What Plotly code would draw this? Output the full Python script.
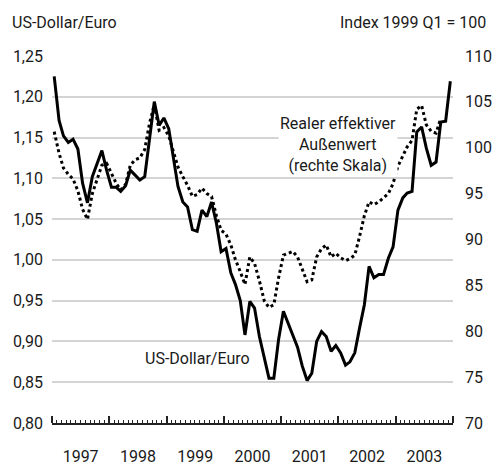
import plotly.graph_objects as go

# Monthly observations, Jan 1997 - Dec 2003
months = [f"{1997 + i // 12}-{i % 12 + 1:02d}-15" for i in range(84)]

usd_eur = [
    1.225, 1.171, 1.152, 1.144, 1.148, 1.136, 1.094, 1.070, 1.102, 1.118, 1.134, 1.110,
    1.089, 1.089, 1.084, 1.091, 1.110, 1.104, 1.098, 1.102, 1.150, 1.194, 1.165, 1.174,
    1.161, 1.122, 1.090, 1.071, 1.065, 1.037, 1.035, 1.061, 1.053, 1.071, 1.045, 1.010,
    1.014, 0.984, 0.970, 0.950, 0.908, 0.949, 0.941, 0.906, 0.880, 0.855, 0.855, 0.902,
    0.937, 0.922, 0.910, 0.893, 0.870, 0.852, 0.861, 0.900, 0.912, 0.906, 0.888, 0.895,
    0.886, 0.871, 0.875, 0.886, 0.916, 0.945, 0.992, 0.978, 0.982, 0.982, 1.002, 1.016,
    1.061, 1.076, 1.082, 1.084, 1.157, 1.163, 1.137, 1.116, 1.120, 1.169, 1.170, 1.219,
]

real_eff = [
    101.75, 99.4, 97.8, 97.1, 96.6, 95.3, 93.3, 92.2, 95.0, 96.5, 98.1, 98.3,
    97.1, 96.1, 95.4, 96.0, 98.1, 98.7, 98.9, 99.8, 102.7, 104.7, 101.9, 102.2,
    101.3, 99.4, 97.9, 96.85, 95.9, 94.7, 94.9, 95.6, 95.0, 94.7, 92.6, 91.0,
    90.6, 89.4, 87.8, 86.5, 85.1, 88.1, 87.4, 85.5, 83.3, 82.6, 82.9, 85.8,
    88.3, 88.5, 88.7, 88.1, 86.8, 85.4, 85.6, 88.1, 89.0, 89.4, 88.1, 88.5,
    88.0, 87.7, 87.9, 88.3, 90.3, 92.6, 94.1, 93.8, 94.1, 94.5, 95.0, 96.1,
    98.0, 99.1, 100.1, 100.8, 104.2, 104.6, 102.5, 101.8, 101.6, 103.2,
]

left_ticks = [0.80, 0.85, 0.90, 0.95, 1.00, 1.05, 1.10, 1.15, 1.20, 1.25]
right_ticks = [70, 75, 80, 85, 90, 95, 100, 105, 110]

FONT = "Roboto"
FS = 16
TXT = "#1a1a1a"

fig = go.Figure()
fig.add_trace(go.Scatter(
    x=months, y=usd_eur, mode="lines", yaxis="y",
    line=dict(color="black", width=3), showlegend=False,
))
fig.add_trace(go.Scatter(
    x=months[:len(real_eff)], y=real_eff, mode="lines", yaxis="y2",
    line=dict(color="black", width=3, dash="dot"), showlegend=False,
))

fig.update_layout(
    width=496, height=466,
    margin=dict(l=52, r=43, t=56, b=43, autoexpand=False),
    paper_bgcolor="white", plot_bgcolor="white",
    separators=", ",
    font=dict(family=FONT, size=FS, color=TXT),
    xaxis=dict(
        type="date", range=["1997-01-01", "2004-01-01"],
        tick0="1997-01-01", dtick="M12", tickformat="%Y",
        ticklabelmode="period", ticks="inside", ticklen=7, tickwidth=1.5,
        tickcolor="#222", showline=True, linecolor="#222", linewidth=1.5,
        showgrid=False, zeroline=False, automargin=False, ticklabelstandoff=18,
        minor=dict(dtick="M1", ticks="inside", ticklen=3, tickwidth=1, tickcolor="#222"),
        tickfont=dict(size=FS, color=TXT),
    ),
    yaxis=dict(
        range=[0.80, 1.25], tickvals=left_ticks, tickformat=".2f",
        showgrid=True, gridcolor="#d4d4d4", gridwidth=1.5,
        zeroline=False, showline=False, ticks="", automargin=False,
        ticklabelstandoff=8, tickfont=dict(size=FS, color=TXT),
    ),
    yaxis2=dict(
        range=[70, 110], tickvals=right_ticks, overlaying="y", side="right",
        showgrid=False, zeroline=False, showline=False, ticks="", automargin=False,
        ticklabelstandoff=11, tickfont=dict(size=FS, color=TXT),
    ),
    annotations=[
        dict(text="US-Dollar/Euro", xref="paper", yref="paper",
             x=-0.105, y=1.09, xanchor="left", yanchor="middle",
             showarrow=False, font=dict(size=FS, color=TXT)),
        dict(text="Index 1999 Q1 = 100", xref="paper", yref="paper",
             x=1.0873, y=1.09, xanchor="right", yanchor="middle",
             showarrow=False, font=dict(size=FS, color=TXT)),
        dict(text="Realer effektiver<br>Außenwert<br>(rechte Skala)",
             xref="paper", yref="paper", x=0.713, y=0.760,
             xanchor="center", yanchor="middle", align="center",
             bgcolor="white", showarrow=False, font=dict(size=FS, color=TXT)),
        dict(text="US-Dollar/Euro", xref="paper", yref="paper",
             x=0.3616, y=0.177, xanchor="center", yanchor="middle",
             bgcolor="white", showarrow=False, font=dict(size=FS, color=TXT)),
    ],
)

fig.write_html(
    "out.html",
    config={"displayModeBar": False},
    post_script="document.body.style.margin='0';document.body.style.overflow='hidden';",
)
